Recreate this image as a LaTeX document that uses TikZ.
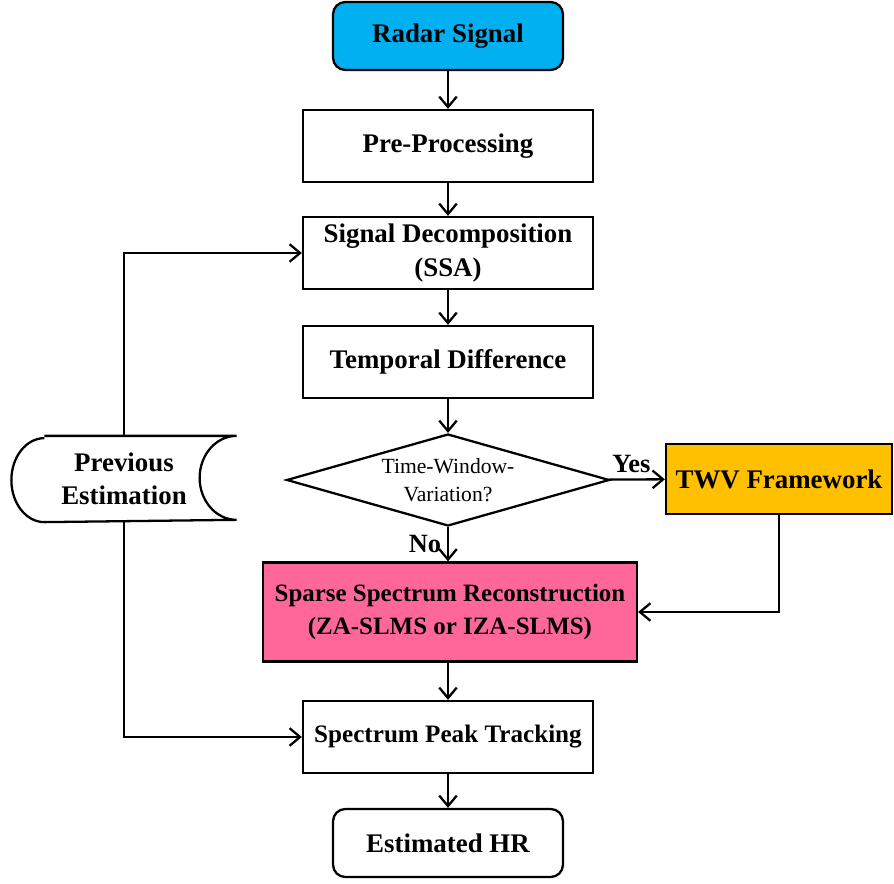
\documentclass[tikz,border=0pt]{standalone}
\usepackage{fontspec}
\setmainfont{Liberation Serif}
\usetikzlibrary{arrows.meta,shapes.geometric}
\definecolor{radarblue}{HTML}{00B0F0}
\definecolor{twvorange}{HTML}{FFC000}
\definecolor{ssrpink}{HTML}{FF6699}
\tikzset{
  box/.style={draw, line width=1.3pt, inner xsep=2pt, minimum width=5.8cm, minimum height=1.44cm, align=center, font=\fontsize{15.3}{19}\selectfont\bfseries},
  term/.style={box, rounded corners=7pt, minimum width=4.6cm, minimum height=1.36cm},
  flow/.style={line width=1.3pt, -{Straight Barb[length=6pt,width=10pt,line width=1.3pt]}},
}
\begin{document}
\begin{tikzpicture}[x=0.02cm, y=-0.02cm, line width=1.3pt]
  \useasboundingbox (0,0) rectangle (894,884);
  \node[term, fill=radarblue] (radar) at (448,36) {Radar Signal};
  \node[box] (pre) at (448,146) {Pre-Processing};
  \node[box] (ssa) at (448,253) {Signal Decomposition\\(SSA)};
  \node[box] (tdiff) at (448,362) {Temporal Difference};
  \node[draw, diamond, aspect=3.5, inner sep=1pt, minimum width=6.46cm, minimum height=1.84cm, align=center,
        font=\fontsize{12.3}{16}\selectfont] (twvq) at (448,480) {Time-Window-\\Variation?};
  \node[box, fill=twvorange, minimum width=4.52cm, minimum height=1.4cm] (twv) at (779,479) {TWV Framework};
  \node[box, fill=ssrpink, minimum width=7.48cm, minimum height=1.98cm, font=\fontsize{14.2}{19}\selectfont\bfseries] (ssr) at (450,612) {Sparse Spectrum Reconstruction\\(ZA-SLMS or IZA-SLMS)};
  \node[box, font=\fontsize{14.3}{19}\selectfont\bfseries] (peak) at (448,737) {Spectrum Peak Tracking};
  \node[term] (hr) at (448,843) {Estimated HR};
  \node[minimum width=4.46cm, minimum height=1.68cm, align=center, font=\fontsize{15.3}{19}\selectfont\bfseries] (prev) at (124,479) {Previous\\Estimation};
  % stored data outline
  \draw ([xshift=0.66cm]prev.north west) -- (prev.north east)
    arc[start angle=90, end angle=270, x radius=0.74cm, y radius=0.84cm]
    -- ([xshift=0.66cm]prev.south west)
    arc[start angle=-90, end angle=-270, x radius=0.66cm, y radius=0.84cm];
  % connectors
  \draw[flow] (radar) -- (pre);
  \draw[flow] (pre) -- (ssa);
  \draw[flow] (ssa) -- (tdiff);
  \draw[flow] (tdiff) -- (twvq);
  \draw[flow] (twvq) -- node[above, pos=0.4, font=\fontsize{15}{19}\selectfont\bfseries] {Yes} (twv);
  \draw[flow] (twvq) -- node[left, font=\fontsize{15}{19}\selectfont\bfseries] {No} (twvq |- ssr.north);
  \draw[flow] (twv) |- (ssr);
  \draw[flow] (ssr.south -| peak.north) -- (peak);
  \draw[flow] (peak) -- (hr);
  \draw[flow] (prev) |- (ssa);
  \draw[flow] (prev) |- (peak);
\end{tikzpicture}
\end{document}
